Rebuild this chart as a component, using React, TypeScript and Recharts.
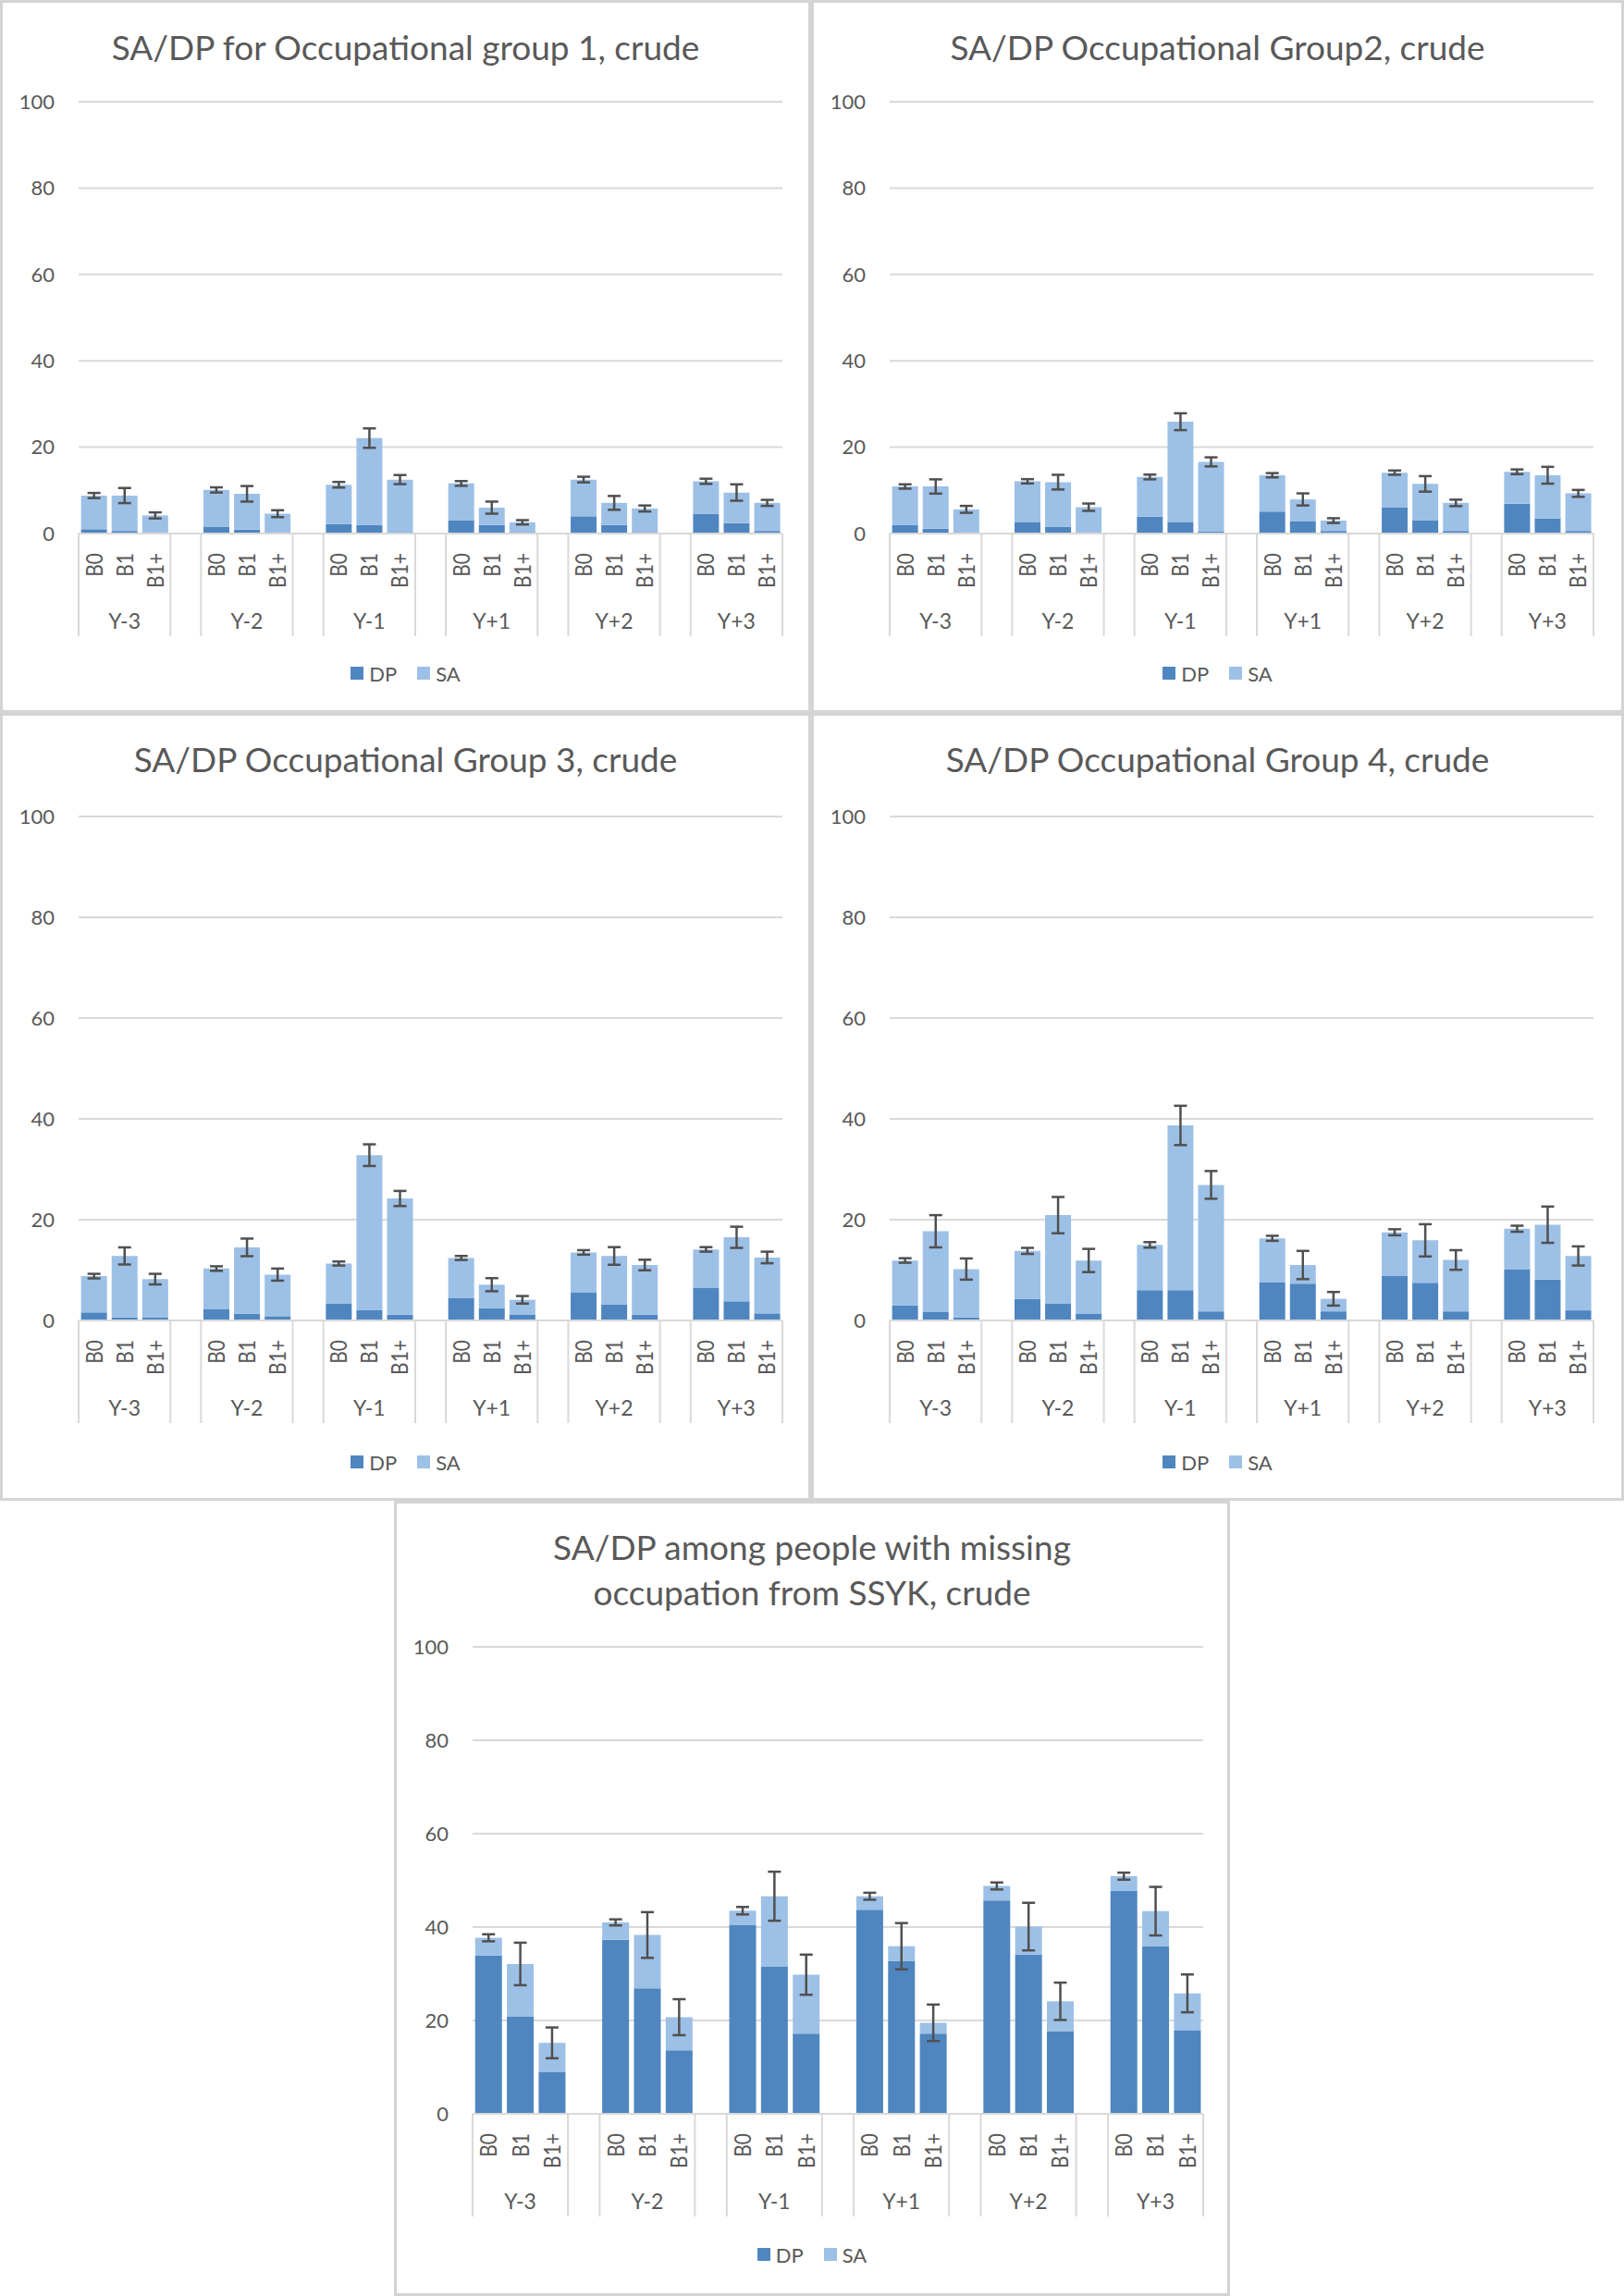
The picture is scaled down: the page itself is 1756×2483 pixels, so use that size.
import React from 'react';
import { BarChart, Bar, XAxis, YAxis, CartesianGrid, ErrorBar } from 'recharts';

const groups = ['Y-3', 'Y-2', 'Y-1', 'Y+1', 'Y+2', 'Y+3'];
const subs = ['B0', 'B1', 'B1+'];
const yTicks = [0, 20, 40, 60, 80, 100];

// Occupational group 1
const g1Dp = [1.0, 0.6, 0.2, 1.5, 0.9, 0.2, 2.2, 2.0, 0.35, 3.1, 2.0, 0.35, 4.0, 2.0, 0.35, 4.6, 2.4, 0.6];
const g1Sa = [7.8, 8.2, 4.0, 8.6, 8.3, 4.4, 9.1, 20.1, 12.15, 8.5, 4.0, 2.25, 8.5, 5.1, 5.45, 7.5, 7.1, 6.5];
const g1Err = [0.6, 1.75, 0.7, 0.6, 1.8, 0.8, 0.65, 2.25, 1.05, 0.55, 1.4, 0.5, 0.65, 1.6, 0.7, 0.6, 1.9, 0.7];

// Occupational group 2
const g2Dp = [2.0, 1.1, 0.1, 2.7, 1.6, 0.1, 3.9, 2.7, 0.5, 5.1, 2.9, 0.6, 6.0, 3.1, 0.6, 6.9, 3.5, 0.6];
const g2Sa = [8.9, 9.8, 5.5, 9.4, 10.3, 6.0, 9.2, 23.2, 16.1, 8.4, 5.0, 2.4, 8.1, 8.4, 6.5, 7.4, 10.0, 8.7];
const g2Err = [0.5, 1.65, 0.8, 0.5, 1.7, 0.85, 0.55, 1.95, 1.05, 0.5, 1.4, 0.55, 0.5, 1.8, 0.75, 0.55, 1.95, 0.8];

// Occupational group 3
const g3Dp = [1.6, 0.6, 0.55, 2.3, 1.35, 0.85, 3.4, 2.1, 1.15, 4.5, 2.4, 1.2, 5.5, 3.2, 1.15, 6.5, 3.8, 1.4];
const g3Sa = [7.2, 12.2, 7.65, 8.0, 13.15, 8.25, 7.9, 30.7, 23.05, 7.9, 4.7, 2.9, 8.0, 9.6, 9.85, 7.6, 12.7, 11.1];
const g3Err = [0.45, 1.7, 1.05, 0.45, 1.75, 1.2, 0.4, 2.15, 1.5, 0.4, 1.3, 0.75, 0.45, 1.75, 1.05, 0.45, 2.1, 1.15];

// Occupational group 4
const g4Dp = [3.0, 1.65, 0.6, 4.3, 3.4, 1.3, 6.0, 6.0, 1.8, 7.6, 7.3, 1.8, 8.9, 7.5, 1.8, 10.2, 8.1, 2.0];
const g4Sa = [8.9, 16.05, 9.6, 9.5, 17.5, 10.6, 9.0, 32.7, 25.1, 8.7, 3.7, 2.5, 8.6, 8.4, 10.2, 8.0, 10.9, 10.8];
const g4Err = [0.45, 3.2, 2.1, 0.6, 3.6, 2.3, 0.55, 3.9, 2.75, 0.5, 2.8, 1.35, 0.6, 3.2, 1.95, 0.6, 3.6, 1.9];

// Missing occupation
const mDp = [33.9, 20.9, 9.0, 37.3, 26.9, 13.6, 40.5, 31.5, 17.2, 43.7, 32.7, 17.2, 45.7, 34.1, 17.7, 47.7, 35.9, 17.8];
const mSa = [3.8, 11.2, 6.2, 3.7, 11.4, 7.1, 3.0, 15.1, 12.6, 2.9, 3.2, 2.3, 3.1, 6.0, 6.4, 3.2, 7.5, 8.0];
const mErr = [0.75, 4.55, 3.3, 0.65, 4.9, 3.85, 0.8, 5.25, 4.3, 0.75, 4.95, 3.9, 0.75, 5.1, 4.0, 0.75, 5.2, 4.05];

const DP_COLOR = '#4f86c0';
const SA_COLOR = '#9dc0e6';
const TEXT = '#595959';
const GRID = '#d9d9d9';
const FONT = 'Lato, "Open Sans", sans-serif';

type Row = { id: string; grp: string; sub: string; pos: number; dp?: number; sa?: number; err?: number };

// one blank category between the year groups, like the Excel sheet
function buildRows(dp: number[], sa: number[], err: number[]): Row[] {
  const rows: Row[] = [];
  groups.forEach((g, gi) => {
    subs.forEach((s, si) => {
      const i = gi * 3 + si;
      rows.push({ id: `${g} ${s}`, grp: g, sub: s, pos: si, dp: dp[i], sa: sa[i], err: err[i] });
    });
    if (gi < groups.length - 1) rows.push({ id: `gap${gi}`, grp: '', sub: '', pos: -1 });
  });
  return rows;
}

function CatTick(props: any) {
  const { x, y, payload, index, rows, half } = props;
  const r: Row = rows[index];
  if (!r) return null;
  const h = payload && payload.offset ? payload.offset : half;
  return (
    <g>
      {r.sub && (
        <text
          transform={`translate(${x + 9},${y + 21}) rotate(-90) scale(1,1.2)`}
          textAnchor="end"
          fontSize={21}
          fill={TEXT}
          fontFamily={FONT}
        >
          {r.sub}
        </text>
      )}
      {r.pos === 1 && (
        <text x={x} y={y + 95} dy="0.35em" textAnchor="middle" fontSize={23} fill={TEXT} fontFamily={FONT}>
          {r.grp}
        </text>
      )}
      {r.pos === 0 && <line x1={x - h} x2={x - h} y1={y} y2={y + 111} stroke={GRID} strokeWidth={2} />}
      {r.pos === 2 && <line x1={x + h} x2={x + h} y1={y} y2={y + 111} stroke={GRID} strokeWidth={2} />}
    </g>
  );
}

type PanelProps = {
  left: number;
  top: number;
  width: number;
  height: number;
  title: string[];
  titleY: number;
  legendY: number;
  plot: { l: number; r: number; t: number; b: number };
  rows: Row[];
};

function Panel({ left, top, width, height, title, titleY, legendY, plot, rows }: PanelProps) {
  const axisH = 120;
  const half = (plot.r - plot.l) / rows.length / 2;
  const lineH = 49;
  return (
    <div style={{ position: 'absolute', left, top, width, height, background: '#fff' }}>
      <div
        style={{
          position: 'absolute',
          left: 0,
          width,
          top: titleY - lineH / 2,
          textAlign: 'center',
          fontFamily: FONT,
          fontSize: 37,
          lineHeight: `${lineH}px`,
          color: TEXT,
        }}
      >
        {title.map((t, i) => (
          <div key={i}>{t}</div>
        ))}
      </div>
      <BarChart
        width={width}
        height={height}
        data={rows}
        barCategoryGap="8%"
        margin={{ top: plot.t, right: width - plot.r, bottom: height - plot.b - axisH, left: 0 }}
      >
        <CartesianGrid vertical={false} stroke={GRID} strokeWidth={2} />
        <XAxis
          dataKey="id"
          interval={0}
          height={axisH}
          tickLine={false}
          tickSize={0}
          tickMargin={0}
          axisLine={{ stroke: GRID, strokeWidth: 2 }}
          tick={(p: any) => <CatTick {...p} rows={rows} half={half} />}
        />
        <YAxis
          width={plot.l}
          domain={[0, 100]}
          ticks={yTicks}
          interval={0}
          axisLine={false}
          tickLine={false}
          tickSize={0}
          tickMargin={26}
          tick={{ fill: TEXT, fontSize: 22, fontFamily: FONT }}
        />
        <Bar dataKey="dp" stackId="s" fill={DP_COLOR} isAnimationActive={false} />
        <Bar dataKey="sa" stackId="s" fill={SA_COLOR} isAnimationActive={false}>
          <ErrorBar dataKey="err" width={7} stroke="#505050" strokeWidth={2.5} direction="y" />
        </Bar>
      </BarChart>
      <div
        style={{
          position: 'absolute',
          left: 0,
          width,
          top: legendY - 14,
          height: 28,
          display: 'flex',
          justifyContent: 'center',
          alignItems: 'center',
          fontFamily: FONT,
          fontSize: 22,
          color: TEXT,
        }}
      >
        <span style={{ width: 14, height: 14, background: DP_COLOR, marginRight: 6 }} />
        <span style={{ marginRight: 22 }}>DP</span>
        <span style={{ width: 14, height: 14, background: SA_COLOR, marginRight: 6 }} />
        <span>SA</span>
      </div>
      <div
        style={{
          position: 'absolute',
          left: 0,
          top: 0,
          width,
          height,
          boxSizing: 'border-box',
          border: '3px solid #d4d4d4',
          pointerEvents: 'none',
        }}
      />
    </div>
  );
}

export default function App() {
  const topPlot = { l: 85, r: 846, t: 110, b: 577 };
  const midPlot = { l: 85, r: 846, t: 112, b: 657 };
  return (
    <div style={{ position: 'absolute', left: 0, top: 0, width: 1756, height: 2483, background: '#fff' }}>
      <Panel
        left={0}
        top={0}
        width={877}
        height={771}
        title={['SA/DP for Occupational group 1, crude']}
        titleY={50}
        legendY={728}
        plot={topPlot}
        rows={buildRows(g1Dp, g1Sa, g1Err)}
      />
      <Panel
        left={877}
        top={0}
        width={879}
        height={771}
        title={['SA/DP Occupational Group2, crude']}
        titleY={50}
        legendY={728}
        plot={topPlot}
        rows={buildRows(g2Dp, g2Sa, g2Err)}
      />
      <Panel
        left={0}
        top={771}
        width={877}
        height={852}
        title={['SA/DP Occupational Group 3, crude']}
        titleY={49}
        legendY={810}
        plot={midPlot}
        rows={buildRows(g3Dp, g3Sa, g3Err)}
      />
      <Panel
        left={877}
        top={771}
        width={879}
        height={852}
        title={['SA/DP Occupational Group 4, crude']}
        titleY={49}
        legendY={810}
        plot={midPlot}
        rows={buildRows(g4Dp, g4Sa, g4Err)}
      />
      <Panel
        left={426}
        top={1623}
        width={904}
        height={860}
        title={['SA/DP among people with missing', 'occupation from SSYK, crude']}
        titleY={49}
        legendY={815}
        plot={{ l: 85, r: 875, t: 158, b: 663 }}
        rows={buildRows(mDp, mSa, mErr)}
      />
    </div>
  );
}
